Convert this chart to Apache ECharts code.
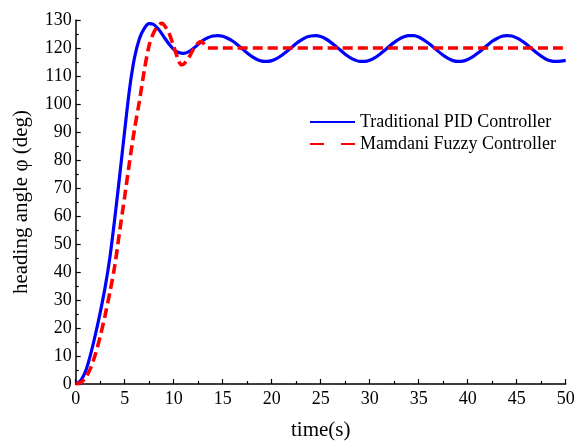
<!DOCTYPE html>
<html>
<head>
<meta charset="utf-8">
<script src="https://cdn.jsdelivr.net/npm/echarts@6/dist/echarts.min.js"></script>
<style>html,body{margin:0;padding:0;background:#fff;}#c{width:576px;height:441px;}</style>
</head>
<body>
<div id="c"></div>
<script>
const seriesNames = ['Traditional PID Controller', 'Mamdani Fuzzy Controller'];
const xTicks = [0, 5, 10, 15, 20, 25, 30, 35, 40, 45, 50];
const yTicks = [0, 10, 20, 30, 40, 50, 60, 70, 80, 90, 100, 110, 120, 130];

const pidTime = [0,0.5,1,1.5,2,2.5,3,3.5,4,4.5,5,5.5,6,6.5,7,7.5,8,8.5,9,9.5,10,10.5,11,11.5,12,12.5,13,13.5,14,14.5,
  15,15.5,16,16.5,17,17.5,18,18.5,19,19.5,20,20.5,21,21.5,22,22.5,23,23.5,24,24.5,
  25,25.5,26,26.5,27,27.5,28,28.5,29,29.5,30,30.5,31,31.5,32,32.5,33,33.5,34,34.5,
  35,35.5,36,36.5,37,37.5,38,38.5,39,39.5,40,40.5,41,41.5,42,42.5,43,43.5,44,44.5,
  45,45.5,46,46.5,47,47.5,48,48.5,49,49.5,50];
const pidValues = [0,1.2,4.5,10.3,17.5,25.5,34.5,45.5,59.5,74.8,90.5,105.5,116.5,123.3,127,128.7,128.3,126.5,124,121.5,119.5,118.4,118.1,118.6,119.8,121.3,122.7,123.7,124.3,124.4,
  124.2,123.5,122.5,121.2,119.7,118.2,116.9,115.9,115.3,115.2,115.5,116.2,117.3,118.7,120.1,121.6,122.8,123.8,124.3,124.4,
  124.1,123.3,122.1,120.7,119.3,117.8,116.6,115.7,115.2,115.2,115.6,116.5,117.7,119.1,120.6,122.0,123.2,124.0,124.4,124.4,
  123.9,122.9,121.7,120.3,118.8,117.4,116.3,115.5,115.2,115.3,115.9,116.8,118.1,119.5,121.0,122.4,123.4,124.2,124.4,124.3,
  123.6,122.6,121.3,119.8,118.4,117.1,116.0,115.4,115.2,115.3,115.6];

const fuzzyTime = [0,0.5,1,1.5,2,2.5,3,3.5,4,4.5,5,5.5,6,6.5,7,7.5,8,8.5,8.8,9,9.5,10,10.5,10.8,11,11.5,12,12.5,12.8,13,13.5,50];
const fuzzyValues = [0,0.5,2.2,5.5,10.5,17,24.5,33,42.5,55,67,79.5,91,101,112,121,125.8,128.3,128.8,128.3,125.5,120.5,115.5,114,114.2,116.3,119.5,121.8,122.3,121.8,120,120];

const zip = (a, b) => a.map((t, i) => [t, b[i]]);
const font = 'Liberation Serif, Times New Roman, serif';

const chart = echarts.init(document.getElementById('c'), null, {renderer: 'canvas'});
chart.setOption({
  backgroundColor: '#ffffff',
  animation: false,
  grid: {left: 75.7, right: 10.3, top: 20, bottom: 57, containLabel: false, outerBoundsMode: 'none'},
  legend: {
    orient: 'vertical',
    left: 309,
    top: 111,
    padding: 0,
    itemWidth: 45,
    itemHeight: 10,
    itemGap: 0,
    textStyle: {fontFamily: font, fontSize: 18, color: '#000', lineHeight: 22},
    data: [
      {name: seriesNames[0], itemStyle: {opacity: 0}},
      {name: seriesNames[1], itemStyle: {opacity: 0}, lineStyle: {type: [14, 17]}}
    ]
  },
  xAxis: {
    type: 'value', min: 0, max: 50, interval: 5,
    name: 'time(s)', nameLocation: 'middle', nameGap: 36,
    nameTextStyle: {fontFamily: font, fontSize: 21, color: '#000'},
    axisLine: {show: true, onZero: false, lineStyle: {color: '#000', width: 1.5}},
    axisTick: {show: true, inside: true, length: 5, lineStyle: {color: '#000', width: 1.2}},
    minorTick: {show: true, splitNumber: 2, length: 3, lineStyle: {color: '#000', width: 1.2}},
    axisLabel: {fontFamily: font, fontSize: 18, color: '#000', margin: 6,
      formatter: v => xTicks.includes(v) ? String(v) : ''},
    splitLine: {show: false}
  },
  yAxis: {
    type: 'value', min: 0, max: 130, interval: 10,
    name: 'heading angle \u03c6 (deg)', nameLocation: 'middle', nameGap: 44,
    nameTextStyle: {fontFamily: font, fontSize: 21, color: '#000'},
    axisLine: {show: true, onZero: false, lineStyle: {color: '#000', width: 1.5}},
    axisTick: {show: true, inside: true, length: 5, lineStyle: {color: '#000', width: 1.2}},
    minorTick: {show: true, splitNumber: 2, length: 3, lineStyle: {color: '#000', width: 1.2}},
    axisLabel: {fontFamily: font, fontSize: 18, color: '#000', margin: 4,
      formatter: v => yTicks.includes(v) ? String(v) : ''},
    splitLine: {show: false}
  },
  series: [
    {
      name: seriesNames[0], type: 'line', data: zip(pidTime, pidValues),
      symbol: 'none', smooth: 0.3, z: 2,
      lineStyle: {color: '#0000ff', width: 3.2},
      itemStyle: {color: '#0000ff'}
    },
    {
      name: seriesNames[1], type: 'line', data: zip(fuzzyTime, fuzzyValues),
      symbol: 'none', smooth: 0.3, z: 3,
      lineStyle: {color: '#ff0000', width: 3.6, type: [10, 5]},
      itemStyle: {color: '#ff0000'}
    }
  ]
});
</script>
</body>
</html>
